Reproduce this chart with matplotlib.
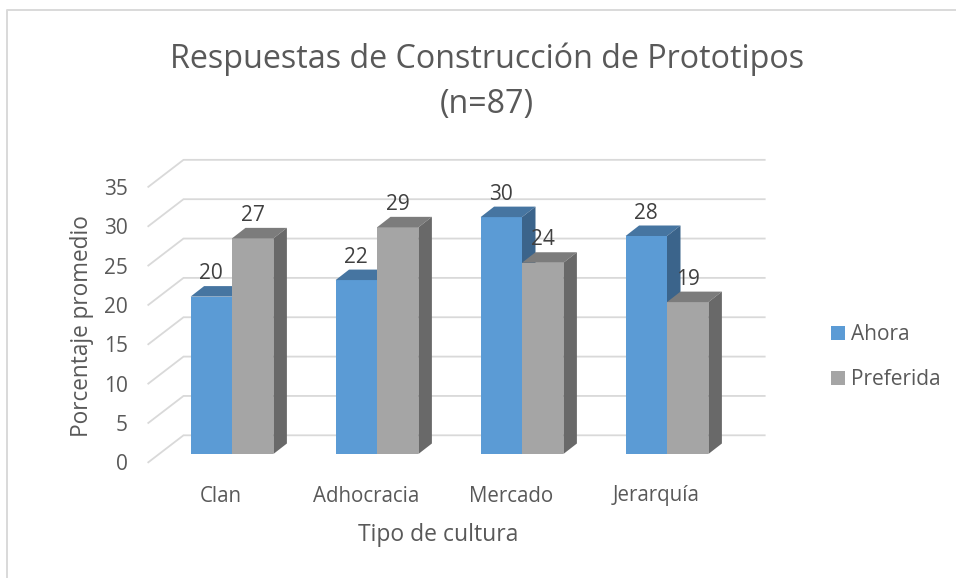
from __future__ import annotations

import matplotlib

matplotlib.use("Agg")

import matplotlib.pyplot as plt
from matplotlib.lines import Line2D
from matplotlib.patches import Polygon

categories = ["Clan", "Adhocracia", "Mercado", "Jerarquía"]
ahora = [20.0, 22.1, 30.1, 27.7]
preferida = [27.4, 28.8, 24.3, 19.3]
y_ticks = [0, 5, 10, 15, 20, 25, 30, 35]

TEXT = "#595959"
LABEL = "#404040"
GRID = "#d9d9d9"

W, H = 956, 578
GROUP_PX = 145.0  # px per category
UNIT_PX = 7.87  # px per percentage point
BASE_X = 232.0  # px of first group centre
BASE_Y = 454.0  # px of bar bottom


def px_x(p):
    return (p - BASE_X) / GROUP_PX


def px_y(p):
    return (BASE_Y - p) / UNIT_PX


BAR_W = 41.4 / GROUP_PX
DX = 13.5 / GROUP_PX
DY = 10.5 / UNIT_PX


def draw_series(ax, positions, values, face, top, side, label):
    bars = ax.bar(positions, values, width=BAR_W, color=face, label=label, zorder=3)
    for x, v in zip(positions, values):
        x0, x1 = x - BAR_W / 2, x + BAR_W / 2
        ax.add_patch(Polygon([(x0, v), (x1, v), (x1 + DX, v + DY), (x0 + DX, v + DY)], fc=top, ec="none", zorder=3))
        ax.add_patch(Polygon([(x1, 0), (x1 + DX, DY), (x1 + DX, v + DY), (x1, v)], fc=side, ec="none", zorder=3))
        ax.text(x, v + 2.9, f"{v:.0f}", ha="center", va="center", fontsize=15, color=LABEL, zorder=5)
    return bars


def main() -> None:
    plt.rcParams["font.family"] = ["Open Sans", "DejaVu Sans"]
    fig = plt.figure(figsize=(W / 100, H / 100), dpi=100, facecolor="white")
    ax = fig.add_axes([0, 0, 1, 1])
    ax.set_xlim(px_x(0), px_x(W))
    ax.set_ylim(px_y(H), px_y(0))
    ax.axis("off")

    # walls: gridlines run along the back, then diagonally down the side
    back_x0, back_x1, front_x = px_x(183.5), px_x(764.7), px_x(148.3)
    back_off, front_off = px_y(435.3), px_y(462.3)
    tick_off = px_y(465)
    for t in y_ticks:
        ax.plot([front_x, back_x0, back_x1], [t + front_off, t + back_off, t + back_off],
                color=GRID, lw=1.3, zorder=1, solid_joinstyle="miter")
        ax.text(px_x(128), t + tick_off, str(t), ha="right", va="center", fontsize=15, color=TEXT)

    positions = list(range(len(categories)))
    left = [p - BAR_W / 2 for p in positions]
    right = [p + BAR_W / 2 for p in positions]
    h1 = draw_series(ax, left, ahora, "#5b9bd5", "#4675a1", "#3b648b", "Ahora")
    h2 = draw_series(ax, right, preferida, "#a5a5a5", "#7c7c7c", "#696969", "Preferida")

    for p, name in zip(positions, categories):
        ax.text(p + px_x(221), px_y(496), name, ha="center", va="center", fontsize=14.8, color=TEXT)

    ax.text(px_x(487), px_y(59), "Respuestas de Construcción de Prototipos", ha="center", va="center", fontsize=23.2, color=TEXT)
    ax.text(px_x(487), px_y(105), "(n=87)", ha="center", va="center", fontsize=23.2, color=TEXT)
    ax.text(px_x(438), px_y(535), "Tipo de cultura", ha="center", va="center", fontsize=16.5, color=TEXT)
    ax.text(px_x(82), px_y(326), "Porcentaje promedio", ha="center", va="center", rotation=90, fontsize=16.3, color=TEXT)

    ax.legend(handles=[h1, h2], loc="center left", bbox_to_anchor=(831 / W, 1 - 357 / H),
              bbox_transform=fig.transFigure, frameon=False, fontsize=15, labelcolor=TEXT,
              handlelength=0.67, handleheight=0.67, handletextpad=0.29, labelspacing=1.16,
              borderpad=0, borderaxespad=0)

    # chart area border: top and left edges only
    fig.add_artist(Line2D([7 / W, 7 / W, 1], [0, 1 - 10 / H, 1 - 10 / H], color=GRID, lw=1.4))

    fig.savefig("out.png", dpi=100)
    plt.close(fig)


if __name__ == "__main__":
    main()
